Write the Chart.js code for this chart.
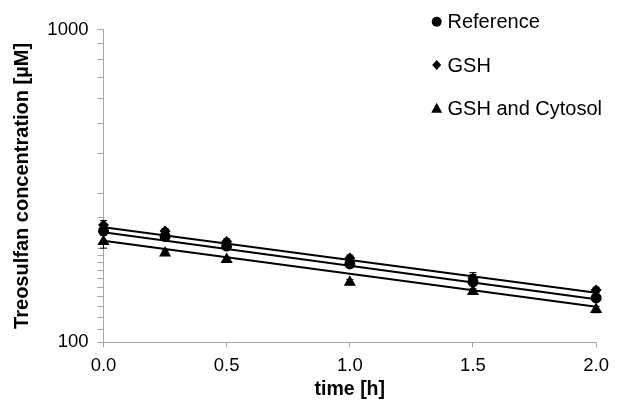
<!DOCTYPE html>
<html><head><meta charset="utf-8">
<script src="https://cdn.jsdelivr.net/npm/chart.js@4"></script>
<style>html,body{margin:0;padding:0;background:#fff}#wrap{width:617px;height:404px;position:relative}</style>
</head><body><div id="wrap"><canvas id="c"></canvas></div>
<script>
// ---- data ----
const times = [0, 0.25, 0.5, 1.0, 1.5, 2.0];
const seriesNames = ['Reference', 'GSH', 'GSH and Cytosol'];
const referenceValues = [227, 218, 203, 178, 156, 138.6];
const gshValues = [237, 227, 210, 186, 160.6, 147];
const cytosolValues = [210, 193, 184, 155.7, 145.4, 127.3];
const referenceErr = [4, 4, 4, 4, 11, 3];
const gshErr = [8, 4, 4, 4, 4, 3];
const cytosolErr = [10, 3, 3, 3, 3, 3];
const trendTimes = [0, 2];
const referenceTrend = [224.9, 137.3];
const gshTrend = [233.3, 144.1];
const cytosolTrend = [211.3, 130.0];
const xTickLabels = ['0.0', '0.5', '1.0', '1.5', '2.0'];
const yTickLabels = [100, 1000];

const FONT = '"Liberation Sans", Arial, sans-serif';
const AXIS = '#a6a6a6';

function pts(xs, ys) { return xs.map((x, i) => ({x: x, y: ys[i]})); }

const pointStyles = ['circle', 'rectRot', 'triangle'];
const pointRadii = [5.5, 5.5, 7];
const values = [referenceValues, gshValues, cytosolValues];
const errs = [referenceErr, gshErr, cytosolErr];
const trends = [referenceTrend, gshTrend, cytosolTrend];

const datasets = [];
for (let i = 0; i < 3; i++) {
  datasets.push({
    type: 'scatter', label: seriesNames[i], data: pts(times, values[i]),
    pointStyle: pointStyles[i], pointRadius: pointRadii[i], pointHoverRadius: pointRadii[i],
    backgroundColor: '#000', borderColor: '#000', borderWidth: 0, showLine: false,
    clip: false, order: 1, errors: errs[i]
  });
}
for (let i = 0; i < 3; i++) {
  datasets.push({
    type: 'line', label: seriesNames[i] + ' fit', data: pts(trendTimes, trends[i]),
    borderColor: '#000', borderWidth: 2, pointRadius: 0, fill: false, clip: false, order: 2
  });
}

const errorBars = {
  id: 'errorBars',
  afterDatasetsDraw(chart) {
    const ctx = chart.ctx, ys = chart.scales.y;
    ctx.save();
    ctx.strokeStyle = '#000'; ctx.lineWidth = 1;
    chart.data.datasets.forEach((ds, di) => {
      if (!ds.errors) return;
      const meta = chart.getDatasetMeta(di);
      meta.data.forEach((el, j) => {
        const v = ds.data[j].y, e = ds.errors[j];
        const y1 = ys.getPixelForValue(v + e), y2 = ys.getPixelForValue(v - e);
        ctx.beginPath();
        ctx.moveTo(el.x, y1); ctx.lineTo(el.x, y2);
        ctx.moveTo(el.x - 3.5, y1); ctx.lineTo(el.x + 3.5, y1);
        ctx.moveTo(el.x - 3.5, y2); ctx.lineTo(el.x + 3.5, y2);
        ctx.stroke();
      });
    });
    ctx.restore();
  }
};

const customLegend = {
  id: 'customLegend',
  afterDraw(chart) {
    const ctx = chart.ctx;
    const mx = 436.7, tx = 447.5, y0 = 21.7, dy = 43.3;
    ctx.save();
    ctx.fillStyle = '#000';
    ctx.font = '20px ' + FONT;
    ctx.textBaseline = 'middle';
    ctx.textAlign = 'left';
    seriesNames.forEach((name, i) => {
      const y = y0 + i * dy;
      ctx.beginPath();
      if (i === 0) { ctx.arc(mx, y, 5, 0, Math.PI * 2); }
      else if (i === 1) { ctx.moveTo(mx, y - 5); ctx.lineTo(mx + 4.5, y); ctx.lineTo(mx, y + 5); ctx.lineTo(mx - 4.5, y); ctx.closePath(); }
      else { ctx.moveTo(mx, y - 5.5); ctx.lineTo(mx + 5.5, y + 4.5); ctx.lineTo(mx - 5.5, y + 4.5); ctx.closePath(); }
      ctx.fill();
      ctx.fillText(name, tx, y + 1);
    });
    ctx.restore();
  }
};

new Chart(document.getElementById('c'), {
  data: { datasets: datasets },
  options: {
    responsive: true, maintainAspectRatio: false, animation: false,
    layout: { padding: { left: 0, top: 29.5, right: 15.5, bottom: 0 } },
    plugins: { legend: { display: false }, tooltip: { enabled: false } },
    scales: {
      x: {
        type: 'linear', min: 0, max: 2,
        ticks: { stepSize: 0.5, color: '#000', font: { family: FONT, size: 18.5 }, padding: 8,
          callback: (v) => xTickLabels[Math.round(v / 0.5)] },
        grid: { drawOnChartArea: false, drawTicks: true, tickLength: 5, color: AXIS },
        border: { color: AXIS, width: 1 },
        title: { display: true, text: 'time [h]', color: '#000', font: { family: FONT, size: 19.5, weight: 'bold' }, padding: { top: 0, bottom: 3 } },
        afterFit: (s) => { s.height = 404 - 342.3; }
      },
      y: {
        type: 'logarithmic', min: 100, max: 1000,
        ticks: { color: '#000', font: { family: FONT, size: 18.5 }, padding: 9, autoSkip: false,
          callback: (v) => (yTickLabels.includes(v) ? String(v) : '') },
        grid: { drawOnChartArea: false, drawTicks: true, tickLength: 6, color: AXIS },
        border: { color: AXIS, width: 1 },
        title: { display: true, text: 'Treosulfan concentration [µM]', color: '#000', font: { family: FONT, size: 20, weight: 'bold' }, padding: { top: 10, bottom: 0 } },
        afterFit: (s) => { s.width = 103.5; }
      }
    }
  },
  plugins: [errorBars, customLegend]
});
</script>
</body></html>
